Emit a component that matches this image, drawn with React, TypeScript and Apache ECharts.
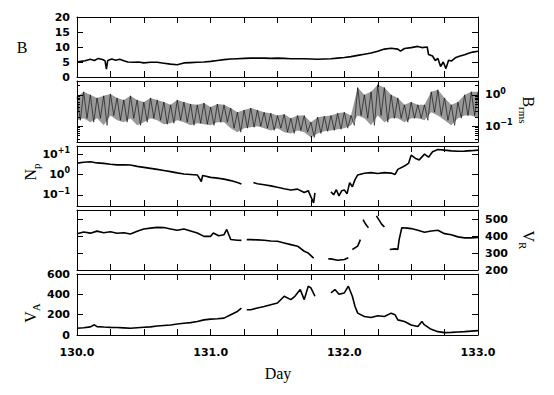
import React, { useEffect, useRef } from 'react';
import * as echarts from 'echarts';

// ---- Data ----
const bDays = [130.00,130.03,130.06,130.10,130.13,130.16,130.19,130.21,130.22,130.23,130.26,130.29,130.32,130.35,130.38,130.42,130.46,130.50,130.55,130.60,130.65,130.70,130.75,130.80,130.85,130.90,130.95,131.00,131.05,131.10,131.15,131.20,131.25,131.30,131.35,131.40,131.45,131.50,131.55,131.60,131.65,131.70,131.75,131.80,131.85,131.90,131.95,132.00,132.05,132.10,132.15,132.20,132.25,132.30,132.35,132.40,132.42,132.45,132.50,132.55,132.58,132.62,132.63,132.66,132.68,132.70,132.72,132.74,132.76,132.78,132.80,132.83,132.86,132.90,132.93,132.96,133.00];
const bValues = [5.0,5.2,5.4,5.9,5.5,6.2,5.8,5.4,2.6,5.5,6.0,5.6,5.9,5.4,5.0,4.9,5.0,4.7,4.9,4.9,4.6,4.3,4.1,4.7,4.8,4.9,5.0,5.2,5.5,5.8,6.0,6.1,6.2,6.3,6.3,6.3,6.2,6.3,6.2,6.1,6.1,6.1,6.0,5.9,6.0,6.1,6.3,6.5,6.8,7.2,7.6,8.0,8.6,9.3,9.6,9.3,8.6,9.5,9.8,10.2,9.8,10.0,7.5,7.0,5.5,6.2,3.5,5.0,2.8,5.6,5.3,6.4,6.9,7.4,7.9,8.3,8.6];

const brmsStart = 130.0;
const brmsStep = 0.05;
const brmsHigh = [0.87,1.25,1.0,0.8,0.93,1.07,0.8,0.69,0.93,0.69,0.59,0.8,0.69,0.59,0.48,0.69,0.59,0.51,0.48,0.55,0.41,0.51,0.48,0.38,0.28,0.33,0.38,0.33,0.28,0.26,0.22,0.24,0.18,0.22,0.22,0.135,0.195,0.21,0.22,0.26,0.28,0.22,1.7,1.0,1.25,2.1,1.7,1.0,0.8,0.48,0.59,0.48,0.48,1.25,1.45,0.8,0.48,0.59,1.0,1.25,1.25];
const brmsLow = [0.155,0.18,0.135,0.18,0.107,0.22,0.155,0.135,0.18,0.107,0.135,0.18,0.155,0.116,0.125,0.155,0.135,0.107,0.125,0.116,0.107,0.135,0.135,0.087,0.065,0.087,0.093,0.1,0.087,0.074,0.087,0.065,0.059,0.074,0.065,0.044,0.059,0.069,0.074,0.08,0.087,0.107,0.22,0.18,0.107,0.22,0.135,0.18,0.18,0.135,0.18,0.18,0.155,0.28,0.22,0.155,0.107,0.18,0.22,0.22,0.18];

const npDays = [130.00,130.05,130.10,130.15,130.20,130.25,130.30,130.35,130.40,130.45,130.50,130.55,130.60,130.65,130.70,130.75,130.80,130.85,130.90,130.93,130.94,131.00,131.05,131.10,131.15,131.20,131.23,131.24,131.32,131.35,131.40,131.45,131.50,131.55,131.60,131.65,131.70,131.73,131.75,131.77,131.78,131.79,131.84,131.86,131.90,131.92,131.94,131.96,131.98,132.00,132.02,132.04,132.06,132.08,132.10,132.15,132.20,132.25,132.30,132.35,132.38,132.40,132.45,132.48,132.50,132.53,132.56,132.60,132.63,132.66,132.70,132.75,132.80,132.85,132.90,132.95,133.00];
const npValues = [3.6,4.0,4.2,3.7,3.5,3.2,2.95,3.0,2.9,2.5,2.24,2.0,1.78,1.58,1.38,1.2,1.05,1.0,0.95,0.45,0.89,0.72,0.66,0.59,0.5,0.4,0.34,null,0.4,0.35,0.31,0.275,0.234,0.2,0.174,0.19,0.129,0.16,0.079,0.04,0.126,null,0.145,null,0.14,0.1,0.178,0.089,0.158,0.174,0.112,0.4,0.25,0.56,0.95,1.15,1.23,1.12,1.23,1.17,1.0,1.78,2.6,3.5,8.9,6.3,5.2,10,7.1,13.2,17,15.8,14.5,13.8,14.1,14.8,15.8];

const vrDays = [130.00,130.05,130.10,130.15,130.20,130.25,130.30,130.35,130.40,130.45,130.50,130.55,130.60,130.65,130.70,130.75,130.80,130.85,130.90,130.95,131.00,131.02,131.06,131.10,131.12,131.15,131.20,131.23,131.24,131.27,131.30,131.35,131.40,131.45,131.50,131.55,131.60,131.65,131.70,131.73,131.75,131.77,131.78,131.88,131.90,131.95,132.00,132.03,132.04,132.06,132.10,132.12,132.13,132.14,132.16,132.18,132.19,132.24,132.26,132.28,132.30,132.31,132.34,132.38,132.40,132.41,132.43,132.47,132.50,132.55,132.60,132.65,132.70,132.75,132.80,132.85,132.90,132.95,133.00];
const vrValues = [415,425,418,430,420,426,417,420,413,429,443,448,452,451,443,435,443,431,419,399,399,419,403,409,440,380,376,375,null,380,380,378,376,372,370,360,350,341,311,300,285,270,null,266,266,258,262,272,null,321,341,380,null,498,470,450,null,520,495,470,455,null,321,325,321,380,450,448,445,435,423,431,435,415,409,396,390,390,392];

const vaDays = [130.00,130.05,130.10,130.13,130.15,130.20,130.25,130.30,130.35,130.40,130.45,130.50,130.55,130.60,130.65,130.70,130.75,130.80,130.85,130.90,130.95,131.00,131.05,131.10,131.15,131.20,131.23,131.24,131.27,131.30,131.35,131.40,131.45,131.50,131.55,131.60,131.63,131.67,131.70,131.73,131.75,131.78,131.79,131.86,131.88,131.90,131.93,131.96,132.00,132.03,132.06,132.08,132.10,132.15,132.20,132.25,132.30,132.35,132.38,132.40,132.45,132.50,132.55,132.58,132.60,132.65,132.70,132.75,132.80,132.85,132.90,132.95,133.00];
const vaValues = [66,72,80,100,82,78,75,74,70,66,72,76,80,89,94,99,108,116,122,132,149,156,160,166,199,232,265,null,248,248,265,281,298,315,381,348,381,447,348,480,464,381,null,348,null,414,447,400,414,480,381,281,215,182,172,189,182,215,199,149,132,99,83,132,99,56,33,23,26,30,33,38,43];

const xTickValues = [130, 130.25, 130.5, 130.75, 131, 131.25, 131.5, 131.75, 132, 132.25, 132.5, 132.75, 133];
const xLabelValues = [130, 131, 132, 133];

const bTicks = [5, 10, 15];
const bLabels = [0, 5, 10, 15, 20];
const brmsMajor = [0.1, 1];
const brmsMinor = [0.04, 0.05, 0.06, 0.07, 0.08, 0.09, 0.2, 0.3, 0.4, 0.5, 0.6, 0.7, 0.8, 0.9, 2];
const npMajor = [0.1, 1, 10];
const vrTicks = [300, 400, 500];
const vrLabels = [200, 300, 400, 500];
const vaTicks = [200, 400];
const vaLabels = [0, 200, 400, 600];

const TICK_FONT = 'DejaVu Sans';
const NAME_FONT = 'Liberation Serif';

const grids = [
  { top: 17, height: 60 },
  { top: 81, height: 61 },
  { top: 146, height: 60 },
  { top: 210, height: 60 },
  { top: 274, height: 61 },
];

function pairs(days: number[], vals: (number | null)[], log = false) {
  return days.map((d, i) => {
    const v = vals[i];
    if (v === null || v === undefined) return [d, '-'];
    return [d, log ? Math.log10(v) : v];
  });
}

function brmsZigzag() {
  const out: any[] = [];
  for (let i = 0; i < brmsHigh.length; i++) {
    const d = brmsStart + i * brmsStep;
    out.push([d, Math.log10(brmsHigh[i])]);
    if (d + brmsStep / 2 <= 133.0001) out.push([d + brmsStep / 2, Math.log10(brmsLow[i])]);
  }
  return out;
}

function brmsBand() {
  return brmsHigh.map((h, i) => [brmsStart + i * brmsStep, Math.log10(h), Math.log10(brmsLow[i])]);
}

const superLabel = (v: number) => {
  const r = Math.round(v);
  const e = r > 0 ? '+' + r : r === 0 ? '0' : '\u2212' + Math.abs(r);
  return '{b|10}{s|' + e + '}';
};

const richSup = {
  b: { fontSize: 11, fontWeight: 'bold', lineHeight: 15, fontFamily: TICK_FONT, color: '#000' },
  s: { fontSize: 8, fontWeight: 'bold', lineHeight: 8, verticalAlign: 'top', fontFamily: TICK_FONT, color: '#000' },
};

function xAxesFor(gi: number) {
  const base = {
    type: 'value',
    gridIndex: gi,
    min: 130,
    max: 133,
    axisLine: { show: true, onZero: false, lineStyle: { color: '#000', width: 1 } },
    splitLine: { show: false },
    axisTick: { show: true, inside: true, length: 6, customValues: xTickValues, lineStyle: { color: '#000', width: 1 } },
  };
  return [
    {
      ...base,
      position: 'bottom',
      axisLabel:
        gi === 4
          ? {
              show: true,
              customValues: xLabelValues,
              formatter: (v: number) => v.toFixed(1),
              fontFamily: TICK_FONT,
              fontWeight: 'bold',
              fontSize: 11,
              color: '#000',
              margin: 12,
            }
          : { show: false },
    },
    { ...base, position: 'top', axisLabel: { show: false } },
  ];
}

function yAxis(gi: number, position: string, min: number, max: number, ticks: number[], labels: number[] | null, fmt?: any, tickLen = 6, rich?: any, lineShow = true) {
  return {
    type: 'value',
    gridIndex: gi,
    position,
    min,
    max,
    axisLine: { show: lineShow, onZero: false, lineStyle: { color: '#000', width: 1 } },
    splitLine: { show: false },
    axisTick: { show: true, inside: true, length: tickLen, customValues: ticks, lineStyle: { color: '#000', width: 1 } },
    axisLabel: labels
      ? {
          show: true,
          customValues: labels,
          formatter: fmt,
          fontFamily: TICK_FONT,
          fontWeight: 'bold',
          fontSize: 11,
          color: '#000',
          margin: 7,
          rich,
        }
      : { show: false },
  };
}

const lg = (a: number[]) => a.map((v) => Math.log10(v));

function nameText(x: number, y: number, main: string, sub: string, rot: number) {
  return {
    type: 'text', x, y, rotation: rot,
    style: {
      text: '{m|' + main + '}{s|' + sub + '}', align: 'center', verticalAlign: 'middle',
      rich: {
        m: { fontSize: 16, lineHeight: 22, fontFamily: NAME_FONT, fill: '#000' },
        s: { fontSize: 11, lineHeight: 11, verticalAlign: 'bottom', fontFamily: NAME_FONT, fill: '#000' },
      },
    },
  };
}

export default function App() {
  const ref = useRef<HTMLDivElement>(null);
  useEffect(() => {
    const chart = echarts.init(ref.current!, null, { renderer: 'svg' });
    const xAxis: any[] = [];
    for (let i = 0; i < 5; i++) xAxis.push(...xAxesFor(i));

    const BRMS_MIN = -1.5, BRMS_MAX = 0.44;
    const NP_MIN = -1.55, NP_MAX = 1.4;

    const yAxisArr: any[] = [
      yAxis(0, 'left', 0, 20, bTicks, bLabels, (v: number) => String(v)),
      yAxis(0, 'right', 0, 20, bTicks, null),
      yAxis(1, 'left', BRMS_MIN, BRMS_MAX, lg(brmsMajor), null),
      yAxis(1, 'right', BRMS_MIN, BRMS_MAX, lg(brmsMajor), lg(brmsMajor), superLabel, 6, richSup),
      yAxis(1, 'left', BRMS_MIN, BRMS_MAX, lg(brmsMinor), null, undefined, 3, undefined, false),
      yAxis(1, 'right', BRMS_MIN, BRMS_MAX, lg(brmsMinor), null, undefined, 3, undefined, false),
      yAxis(2, 'left', NP_MIN, NP_MAX, lg(npMajor), lg(npMajor), superLabel, 6, richSup),
      yAxis(2, 'right', NP_MIN, NP_MAX, lg(npMajor), null),
      yAxis(3, 'left', 200, 555, vrTicks, null),
      yAxis(3, 'right', 200, 555, vrTicks, vrLabels, (v: number) => String(v)),
      yAxis(4, 'left', 0, 600, vaTicks, vaLabels, (v: number) => String(v)),
      yAxis(4, 'right', 0, 600, vaTicks, null),
    ];

    const lineStyle = { color: '#000', width: 1.6 };
    const common = { type: 'line', showSymbol: false, symbol: 'none', connectNulls: false, clip: true, silent: true };

    const band = brmsBand();

    const option: any = {
      animation: false,
      backgroundColor: '#fff',
      grid: grids.map((g) => ({ left: 77, right: 76, top: g.top, height: g.height, show: false })),
      xAxis,
      yAxis: yAxisArr,
      series: [
        { ...common, xAxisIndex: 0, yAxisIndex: 0, data: pairs(bDays, bValues), lineStyle },
        {
          type: 'custom',
          coordinateSystem: 'cartesian2d',
          xAxisIndex: 2,
          yAxisIndex: 2,
          silent: true,
          data: band,
          encode: { x: 0, y: [1, 2] },
          renderItem: (params: any, api: any) => {
            if (params.dataIndex !== 0) return null;
            const top = band.map((b) => api.coord([b[0], b[1]]));
            const bot = band.map((b) => api.coord([b[0], b[2]])).reverse();
            return { type: 'polygon', shape: { points: top.concat(bot) }, style: { fill: 'rgba(0,0,0,0.4)', stroke: 'none' } };
          },
        },
        { ...common, xAxisIndex: 2, yAxisIndex: 2, data: brmsZigzag(), lineStyle: { color: '#000', width: 0.6 } },
        { ...common, xAxisIndex: 4, yAxisIndex: 6, data: pairs(npDays, npValues, true), lineStyle },
        { ...common, xAxisIndex: 6, yAxisIndex: 8, data: pairs(vrDays, vrValues), lineStyle },
        { ...common, xAxisIndex: 8, yAxisIndex: 10, data: pairs(vaDays, vaValues), lineStyle },
      ],
      graphic: [
        { type: 'text', x: 22, y: 47, style: { text: 'B', font: '16px "' + NAME_FONT + '"', fill: '#000', align: 'center', verticalAlign: 'middle' } },
        nameText(30, 172, 'N', 'p', Math.PI / 2),
        nameText(30, 313, 'V', 'A', Math.PI / 2),
        nameText(528, 110, 'B', 'rms', -Math.PI / 2),
        nameText(528, 240, 'V', 'R', -Math.PI / 2),
        { type: 'text', x: 278, y: 373, style: { text: 'Day', font: '16px "' + NAME_FONT + '"', fill: '#000', align: 'center', verticalAlign: 'middle' } },
      ],
    };
    chart.setOption(option);
    return () => chart.dispose();
  }, []);
  return <div ref={ref} style={{ position: 'fixed', left: 0, top: 0, width: 554, height: 395, background: '#fff' }} />;
}
